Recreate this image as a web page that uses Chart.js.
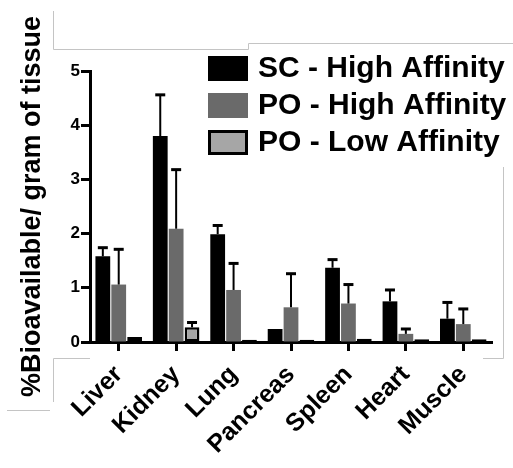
<!DOCTYPE html>
<html>
<head>
<meta charset="utf-8">
<script src="https://cdn.jsdelivr.net/npm/chart.js@4/dist/chart.umd.min.js"></script>
<style>
  html, body { margin: 0; padding: 0; background: #fff; }
  #wrap { position: relative; width: 513px; height: 468px; }
</style>
</head>
<body>
<div id="wrap"><canvas id="organChart" width="513" height="468"></canvas></div>
<script>
const categories = ["Liver", "Kidney", "Lung", "Pancreas", "Spleen", "Heart", "Muscle"];
const seriesNames = ["SC - High Affinity", "PO - High Affinity", "PO - Low Affinity"];
const scHigh = [1.58, 3.80, 1.99, 0.24, 1.37, 0.75, 0.43];
const scHighErr = [1.74, 4.56, 2.15, null, 1.52, 0.96, 0.73];
const poHigh = [1.06, 2.09, 0.96, 0.64, 0.71, 0.15, 0.33];
const poHighErr = [1.71, 3.18, 1.45, 1.26, 1.06, 0.24, 0.61];
const poLow = [0.09, 0.27, 0.04, 0.04, 0.06, 0.05, 0.05];
const poLowErr = [null, 0.36, null, null, null, null, null];
const yTicks = [0, 1, 2, 3, 4, 5];

const FONT = "'Liberation Sans', Arial, sans-serif";
const colors = ["#000000", "#6a6a6a", "#a6a6a6"];

const ctx = document.getElementById("organChart").getContext("2d");

// faint box lines left over in the source figure
const ghostLines = {
  id: "ghostLines",
  beforeDraw(chart) {
    const c = chart.ctx;
    c.save();
    c.strokeStyle = "#c4c4c4";
    c.lineWidth = 1;
    const segs = [
      [[53.5, 11], [53.5, 49.5], [248.5, 49.5], [248.5, 43.5], [513, 43.5]],
      [[503.5, 167], [503.5, 358.5], [483, 358.5]],
      [[90, 358.5], [53.5, 358.5], [53.5, 402]],
      [[7, 410.5], [50, 410.5]]
    ];
    segs.forEach(s => {
      c.beginPath();
      c.moveTo(s[0][0], s[0][1]);
      s.slice(1).forEach(p => c.lineTo(p[0], p[1]));
      c.stroke();
    });
    c.restore();
  }
};

// one-sided (upper) error bars
const errorBars = {
  id: "errorBars",
  afterDatasetsDraw(chart) {
    const c = chart.ctx;
    const y = chart.scales.y;
    const errs = [scHighErr, poHighErr, poLowErr];
    c.save();
    c.strokeStyle = "#000";
    errs.forEach((arr, i) => {
      const meta = chart.getDatasetMeta(i);
      arr.forEach((v, j) => {
        if (v == null) return;
        const bar = meta.data[j];
        const top = y.getPixelForValue(v);
        c.lineWidth = 2;
        c.beginPath();
        c.moveTo(bar.x, bar.y);
        c.lineTo(bar.x, top);
        c.stroke();
        c.lineWidth = 3;
        c.beginPath();
        c.moveTo(bar.x - 5, top);
        c.lineTo(bar.x + 5, top);
        c.stroke();
      });
    });
    c.restore();
  }
};

// legend drawn as in the figure, upper right
const legendBox = {
  id: "legendBox",
  afterDraw(chart) {
    const c = chart.ctx;
    c.save();
    const rows = [68, 105, 142];
    c.font = "bold 30px " + FONT;
    c.textBaseline = "middle";
    c.fillStyle = "#000";
    seriesNames.forEach((name, i) => {
      const top = rows[i] - 12;
      c.fillStyle = colors[i];
      c.fillRect(208, top, 40, 25);
      if (i === 2) {
        c.strokeStyle = "#000";
        c.lineWidth = 3;
        c.strokeRect(209.5, top + 1.5, 37, 22);
      }
      c.fillStyle = "#000";
      c.fillText(name, 258, rows[i] + 1);
    });
    c.restore();
  }
};

const makeSet = (label, data, i) => ({
  label,
  data,
  backgroundColor: colors[i],
  borderColor: "#000",
  borderWidth: i === 2 ? 2.5 : 0,
  borderSkipped: i === 2 ? false : "start",
  categoryPercentage: 0.83,
  barPercentage: 0.93
});

new Chart(ctx, {
  type: "bar",
  data: {
    labels: categories,
    datasets: [
      makeSet(seriesNames[0], scHigh, 0),
      makeSet(seriesNames[1], poHigh, 1),
      makeSet(seriesNames[2], poLow, 2)
    ]
  },
  plugins: [ghostLines, errorBars, legendBox],
  options: {
    responsive: false,
    animation: false,
    layout: { padding: { left: 14, top: 71, right: 21, bottom: 0 } },
    plugins: { legend: { display: false }, tooltip: { enabled: false } },
    scales: {
      x: {
        afterFit(scale) { scale.height = 126; },
        grid: { display: true, drawOnChartArea: false, offset: false, tickLength: 9, tickWidth: 3, tickColor: "#000" },
        border: { display: true, color: "#000", width: 3 },
        ticks: {
          color: "#000",
          font: { family: FONT, size: 25, weight: "bold" },
          minRotation: 45,
          maxRotation: 45,
          padding: 9,
          autoSkip: false
        }
      },
      y: {
        min: 0,
        max: 5,
        afterFit(scale) { scale.width = 76; },
        afterBuildTicks(scale) { scale.ticks = yTicks.map(v => ({ value: v })); },
        grid: { display: true, drawOnChartArea: false, tickLength: 9, tickWidth: 3, tickColor: "#000" },
        border: { display: true, color: "#000", width: 3 },
        ticks: {
          color: "#000",
          font: { family: FONT, size: 17, weight: "bold" },
          padding: 1
        },
        title: {
          display: true,
          text: "%Bioavailable/ gram of tissue",
          color: "#000",
          font: { family: FONT, size: 27, weight: "bold" },
          padding: { top: 2, bottom: 4 }
        }
      }
    }
  }
});
</script>
</body>
</html>
